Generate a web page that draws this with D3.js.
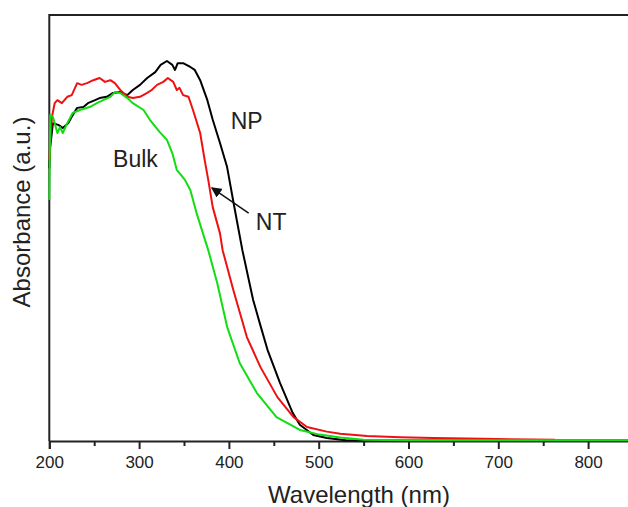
<!DOCTYPE html>
<html>
<head>
<meta charset="utf-8">
<script src="https://cdn.jsdelivr.net/npm/d3@7"></script>
<style>
  body { margin: 0; background: #fff; }
  text { font-family: "Liberation Sans", Arial, sans-serif; fill: #222; }
</style>
</head>
<body>
<div id="chart"></div>
<script>
// wavelength (nm) and absorbance (a.u.)
const npWave = [200, 201, 204, 210, 215, 221, 225, 231, 238, 243, 251, 256, 264, 271, 279, 287, 293, 301, 309, 318, 324, 331, 337, 340, 343, 349, 357, 362, 368, 376, 382, 390, 398, 406, 415, 427, 435, 443, 457, 471, 479, 494, 509, 530, 600, 850];
const npAbs = [0.64, 0.69, 0.746, 0.742, 0.735, 0.746, 0.761, 0.782, 0.784, 0.793, 0.800, 0.805, 0.808, 0.817, 0.819, 0.812, 0.824, 0.836, 0.852, 0.866, 0.883, 0.892, 0.883, 0.871, 0.887, 0.887, 0.878, 0.871, 0.847, 0.800, 0.754, 0.700, 0.643, 0.550, 0.448, 0.331, 0.272, 0.214, 0.136, 0.066, 0.038, 0.014, 0.007, 0.002, 0.001, 0.001];

const ntWave = [200, 201, 203, 206, 209, 214, 220, 225, 231, 236, 242, 249, 256, 262, 268, 273, 279, 287, 293, 301, 309, 314, 320, 327, 332, 338, 342, 345, 349, 355, 360, 368, 373, 377, 382, 390, 393, 405, 420, 435, 454, 472, 487, 509, 524, 554, 591, 628, 683, 763];
const ntAbs = [0.66, 0.70, 0.761, 0.793, 0.800, 0.793, 0.808, 0.812, 0.840, 0.836, 0.840, 0.847, 0.852, 0.843, 0.847, 0.840, 0.824, 0.808, 0.805, 0.808, 0.817, 0.824, 0.836, 0.843, 0.852, 0.843, 0.824, 0.829, 0.812, 0.808, 0.777, 0.723, 0.660, 0.613, 0.549, 0.488, 0.448, 0.354, 0.244, 0.174, 0.103, 0.056, 0.033, 0.022, 0.017, 0.012, 0.009, 0.007, 0.005, 0.003];

const bulkWave = [200, 201, 204, 209, 212, 215, 220, 226, 234, 245, 253, 260, 268, 273, 279, 287, 293, 305, 312, 323, 331, 337, 342, 345, 351, 357, 364, 371, 377, 387, 398, 412, 431, 453, 479, 501, 524, 550, 600, 850];
const bulkAbs = [0.566, 0.765, 0.761, 0.723, 0.737, 0.723, 0.746, 0.770, 0.777, 0.784, 0.793, 0.800, 0.808, 0.819, 0.817, 0.805, 0.793, 0.777, 0.754, 0.725, 0.707, 0.676, 0.636, 0.629, 0.613, 0.589, 0.535, 0.488, 0.448, 0.371, 0.268, 0.183, 0.113, 0.056, 0.026, 0.015, 0.008, 0.003, 0.002, 0.002];

const xTicks = [200, 300, 400, 500, 600, 700, 800];
const xMinorTicks = [250, 350, 450, 550, 650, 750, 850];

const labels = [
    { text: "NP", wave: 402, abs: 0.733 },
    { text: "Bulk", wave: 271, abs: 0.643 },
    { text: "NT", wave: 430, abs: 0.495 }
];
// arrow from the NT label to the NT curve
const arrowFrom = { wave: 422, abs: 0.535 };
const arrowTo = { wave: 381, abs: 0.594 };

const width = 628;
const height = 507;

const svg = d3.select('#chart')
    .append('svg')
    .attr('width', width)
    .attr('height', height);

svg.append('defs').append('marker')
    .attr('id', 'arrowhead')
    .attr('viewBox', '0 0 10 10')
    .attr('refX', 9)
    .attr('refY', 5)
    .attr('markerWidth', 7)
    .attr('markerHeight', 7)
    .attr('orient', 'auto')
    .append('path')
    .attr('d', 'M0,0 L10,5 L0,10 z')
    .attr('fill', '#111');

// scales
const xScale = d3.scaleLinear()
    .domain([200, 850])
    .range([49.3, 633]);

const yScale = d3.scaleLinear()
    .domain([0, 1])
    .range([441, 15]);

// frame: top line and left line
svg.append('line')
    .attr('x1', xScale(200)).attr('x2', width + 5)
    .attr('y1', yScale(1)).attr('y2', yScale(1))
    .attr('stroke', '#222').attr('stroke-width', 2);

svg.append('line')
    .attr('x1', xScale(200)).attr('x2', xScale(200))
    .attr('y1', yScale(1) - 1).attr('y2', yScale(0))
    .attr('stroke', '#222').attr('stroke-width', 2);

// x axis
const xAxis = d3.axisBottom(xScale)
    .tickValues(xTicks)
    .tickSize(8)
    .tickPadding(7)
    .tickFormat(d3.format('d'));

const xAxisMinor = d3.axisBottom(xScale)
    .tickValues(xMinorTicks)
    .tickSize(5)
    .tickFormat('');

const gx = svg.append('g')
    .attr('id', 'x-axis')
    .attr('transform', `translate(0, ${yScale(0)})`)
    .call(xAxis);

svg.append('g')
    .attr('transform', `translate(0, ${yScale(0)})`)
    .call(xAxisMinor)
    .call(g => g.select('.domain').remove())
    .selectAll('line').attr('stroke', '#222').attr('stroke-width', 2);

gx.select('.domain').attr('stroke', '#222').attr('stroke-width', 2);
gx.selectAll('.tick line').attr('stroke', '#222').attr('stroke-width', 2);
gx.selectAll('.tick text')
    .style('font-size', '17px')
    .style('font-family', '"Liberation Sans", Arial, sans-serif')
    .attr('fill', '#222');

// curves
const line = d3.line()
    .x(d => xScale(d[0]))
    .y(d => yScale(d[1]));

const series = [
    { wave: npWave, abs: npAbs, color: '#000000' },
    { wave: ntWave, abs: ntAbs, color: '#ee1111' },
    { wave: bulkWave, abs: bulkAbs, color: '#11dd11' }
];

svg.selectAll('path.curve')
    .data(series)
    .enter()
    .append('path')
    .attr('class', 'curve')
    .attr('d', s => line(d3.zip(s.wave, s.abs)))
    .attr('fill', 'none')
    .attr('stroke', s => s.color)
    .attr('stroke-width', 2)
    .attr('stroke-linejoin', 'round');

// annotations
svg.selectAll('text.label')
    .data(labels)
    .enter()
    .append('text')
    .attr('class', 'label')
    .attr('x', d => xScale(d.wave))
    .attr('y', d => yScale(d.abs))
    .style('font-size', '23px')
    .text(d => d.text);

svg.append('line')
    .attr('x1', xScale(arrowFrom.wave))
    .attr('y1', yScale(arrowFrom.abs))
    .attr('x2', xScale(arrowTo.wave))
    .attr('y2', yScale(arrowTo.abs))
    .attr('stroke', '#111')
    .attr('stroke-width', 1.5)
    .attr('marker-end', 'url(#arrowhead)');

// axis titles
svg.append('text')
    .attr('x', 359)
    .attr('y', 503)
    .attr('text-anchor', 'middle')
    .style('font-size', '24px')
    .text('Wavelength (nm)');

svg.append('text')
    .attr('transform', 'translate(30, 212) rotate(-90)')
    .attr('text-anchor', 'middle')
    .style('font-size', '24px')
    .text('Absorbance (a.u.)');
</script>
</body>
</html>
